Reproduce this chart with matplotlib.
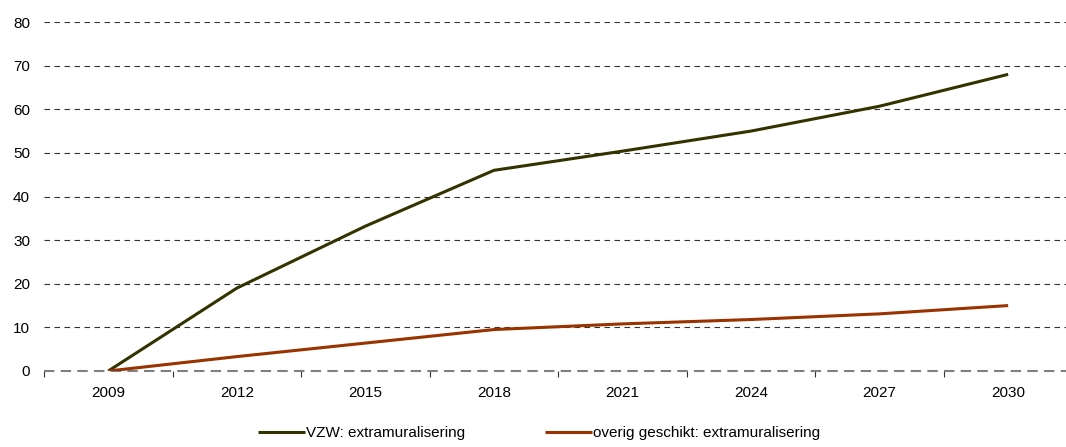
import numpy as np
import matplotlib.pyplot as plt
from matplotlib.ticker import FixedLocator

plt.rcParams['font.family'] = ['Liberation Sans', 'DejaVu Sans']

# Data
years = [2009, 2012, 2015, 2018, 2021, 2024, 2027, 2030]
vzw_extramuraal = [0, 19.0, 33.2, 46.0, 50.4, 55.0, 60.7, 68.0]
overig_extramuraal = [0, 3.3, 6.4, 9.5, 10.8, 11.8, 13.1, 15.0]
series_labels = ['VZW: extramuralisering', 'overig geschikt: extramuralisering']
y_ticks = [0, 10, 20, 30, 40, 50, 60, 70, 80]

col_vzw = '#333300'
col_overig = '#993300'

fig = plt.figure(figsize=(10.66, 4.47), dpi=100)
ax = fig.add_axes([44 / 1066, 1 - 371 / 447, 1 - 44 / 1066, (371 - 22) / 447])

ax.plot(years, vzw_extramuraal, color=col_vzw, lw=2.2, label=series_labels[0],
        solid_capstyle='butt', zorder=3)
ax.plot(years, overig_extramuraal, color=col_overig, lw=2.2, label=series_labels[1],
        solid_capstyle='butt', zorder=3)

ax.set_xlim(2007.5, 2031.35)
ax.set_ylim(0, 80)

# gridlines
for v in y_ticks[1:]:
    ax.axhline(v, color='#333333', lw=0.8, ls=(0, (5, 4)), zorder=1)
ax.axhline(0, color='#808080', lw=1.5, ls=(0, (5, 3)), zorder=2, clip_on=False)

for s in ax.spines.values():
    s.set_visible(False)

ax.set_yticks(y_ticks)
ax.tick_params(axis='y', length=0, pad=10, labelsize=11, colors='#000000')

ax.set_xticks(years)
ax.xaxis.set_minor_locator(FixedLocator(np.arange(2007.5, 2031, 3)))
ax.tick_params(axis='x', which='major', length=0, pad=11, labelsize=11)
ax.tick_params(axis='x', which='minor', length=4, width=0.8, color='#333333',
               direction='out')

fig.legend(loc='center', bbox_to_anchor=(539 / 1066, 1 - 433 / 447), ncol=2,
           frameon=False, fontsize=11, handlelength=3.1, handletextpad=0.05,
           columnspacing=5.2)

fig.savefig('out.png', dpi=100)
